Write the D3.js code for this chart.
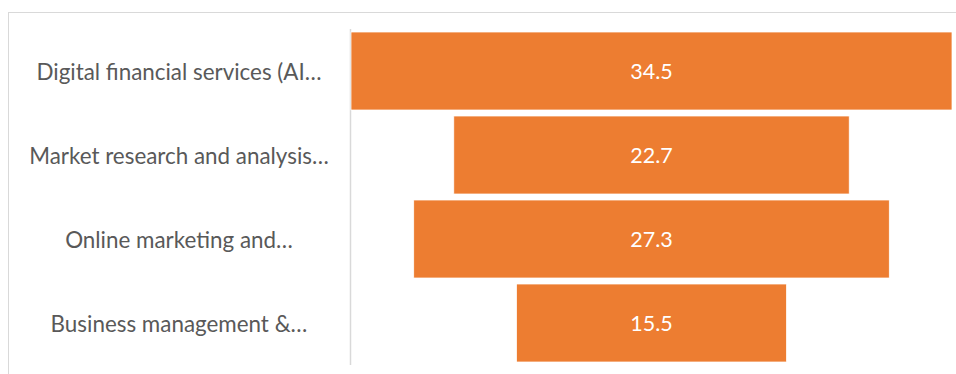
<!DOCTYPE html>
<html>
<head>
<meta charset="utf-8">
<script src="https://cdn.jsdelivr.net/npm/d3@7"></script>
<style>
  body { margin: 0; background: #fff; }
  svg { display: block; }
</style>
</head>
<body>
<div id="chart"></div>
<script>
// Data
const categories = [
  "Digital financial services (AI…",
  "Market research and analysis…",
  "Online marketing and…",
  "Business management &…"
];
const values = [34.5, 22.7, 27.3, 15.5];

// Dimensions
const width = 956;
const height = 374;
const axisX = 350;
const plotTop = 29;
const plotBottom = 365;
const centerX = 651.5;
const maxBarWidth = 601;
const labelX = 179;

const svg = d3.select("#chart")
  .append("svg")
  .attr("width", width)
  .attr("height", height);

// Chart border
svg.append("rect")
  .attr("x", 8.5)
  .attr("y", 12.5)
  .attr("width", 1000)
  .attr("height", 400)
  .attr("fill", "none")
  .attr("stroke", "#d9d9d9");

// Scales
const y = d3.scaleBand()
  .domain(categories)
  .range([plotTop, plotBottom])
  .paddingInner(6 / 84)
  .paddingOuter(3 / 84);

const x = d3.scaleLinear()
  .domain([0, d3.max(values)])
  .range([0, maxBarWidth]);

// Axis line
svg.append("line")
  .attr("x1", axisX + 0.5)
  .attr("x2", axisX + 0.5)
  .attr("y1", plotTop)
  .attr("y2", plotBottom)
  .attr("stroke", "#d9d9d9")
  .attr("stroke-width", 1.5);

// Bars
svg.append("g")
  .selectAll("rect")
  .data(values)
  .join("rect")
  .attr("x", d => centerX - x(d) / 2)
  .attr("y", (d, i) => y(categories[i]))
  .attr("width", d => x(d))
  .attr("height", y.bandwidth())
  .attr("fill", "#ed7d31")
  .attr("stroke", "#fff")
  .attr("stroke-width", 0.75);

// Value labels
svg.append("g")
  .selectAll("text")
  .data(values)
  .join("text")
  .attr("x", centerX)
  .attr("y", (d, i) => y(categories[i]) + y.bandwidth() / 2)
  .attr("text-anchor", "middle")
  .attr("dominant-baseline", "central")
  .style("font-family", "Lato, 'Open Sans', sans-serif")
  .style("font-size", "21.5px")
  .attr("fill", "#fff")
  .text(d => d.toFixed(1));

// Category labels
svg.append("g")
  .selectAll("text")
  .data(categories)
  .join("text")
  .attr("x", labelX)
  .attr("y", d => y(d) + y.bandwidth() / 2)
  .attr("text-anchor", "middle")
  .attr("dominant-baseline", "central")
  .style("font-family", "Lato, 'Open Sans', sans-serif")
  .style("font-size", "22.4px")
  .attr("fill", "#595959")
  .text(d => d);
</script>
</body>
</html>
